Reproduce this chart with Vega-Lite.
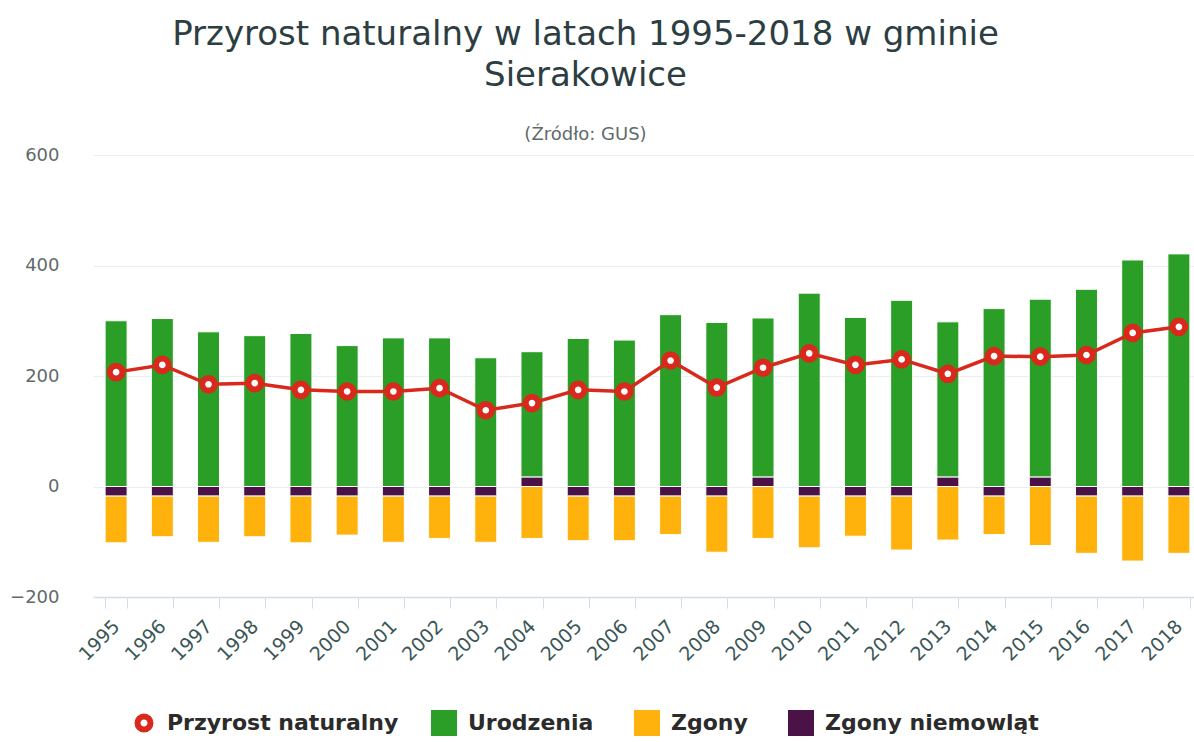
{
  "$schema": "https://vega.github.io/schema/vega-lite/v6.json",
  "width": 1109,
  "height": 442,
  "autosize": {"type": "none"},
  "padding": {"left": 93, "top": 155, "right": 0, "bottom": 145},
  "background": "white",
  "title": {
    "text": ["Przyrost naturalny w latach 1995-2018 w gminie", "Sierakowice"],
    "subtitle": "(Źródło: GUS)",
    "anchor": "middle",
    "frame": "group",
    "dx": -62,
    "offset": 2,
    "font": "DejaVu Sans",
    "fontSize": 34,
    "fontWeight": "normal",
    "color": "#2c3e42",
    "lineHeight": 41,
    "subtitleFont": "DejaVu Sans",
    "subtitleFontSize": 18,
    "subtitleColor": "#5f6b6b",
    "subtitlePadding": 33
  },
  "config": {
    "view": {"stroke": null},
    "font": "DejaVu Sans"
  },
  "data": {
    "values": [
      {"year": "1995", "series": "Urodzenia", "value": 300},
      {"year": "1995", "series": "Zgony", "value": -85},
      {"year": "1995", "series": "Zgony niemowląt", "value": -17},
      {"year": "1995", "series": "Przyrost naturalny", "value": 207},
      {"year": "1996", "series": "Urodzenia", "value": 304},
      {"year": "1996", "series": "Zgony", "value": -74},
      {"year": "1996", "series": "Zgony niemowląt", "value": -17},
      {"year": "1996", "series": "Przyrost naturalny", "value": 220},
      {"year": "1997", "series": "Urodzenia", "value": 280},
      {"year": "1997", "series": "Zgony", "value": -84},
      {"year": "1997", "series": "Zgony niemowląt", "value": -17},
      {"year": "1997", "series": "Przyrost naturalny", "value": 185},
      {"year": "1998", "series": "Urodzenia", "value": 273},
      {"year": "1998", "series": "Zgony", "value": -74},
      {"year": "1998", "series": "Zgony niemowląt", "value": -17},
      {"year": "1998", "series": "Przyrost naturalny", "value": 187},
      {"year": "1999", "series": "Urodzenia", "value": 277},
      {"year": "1999", "series": "Zgony", "value": -85},
      {"year": "1999", "series": "Zgony niemowląt", "value": -17},
      {"year": "1999", "series": "Przyrost naturalny", "value": 175},
      {"year": "2000", "series": "Urodzenia", "value": 255},
      {"year": "2000", "series": "Zgony", "value": -71},
      {"year": "2000", "series": "Zgony niemowląt", "value": -17},
      {"year": "2000", "series": "Przyrost naturalny", "value": 172},
      {"year": "2001", "series": "Urodzenia", "value": 269},
      {"year": "2001", "series": "Zgony", "value": -84},
      {"year": "2001", "series": "Zgony niemowląt", "value": -17},
      {"year": "2001", "series": "Przyrost naturalny", "value": 172},
      {"year": "2002", "series": "Urodzenia", "value": 269},
      {"year": "2002", "series": "Zgony", "value": -77},
      {"year": "2002", "series": "Zgony niemowląt", "value": -17},
      {"year": "2002", "series": "Przyrost naturalny", "value": 178},
      {"year": "2003", "series": "Urodzenia", "value": 233},
      {"year": "2003", "series": "Zgony", "value": -84},
      {"year": "2003", "series": "Zgony niemowląt", "value": -17},
      {"year": "2003", "series": "Przyrost naturalny", "value": 138},
      {"year": "2004", "series": "Urodzenia", "value": 227},
      {"year": "2004", "series": "Zgony", "value": -94},
      {"year": "2004", "series": "Zgony niemowląt", "value": 17},
      {"year": "2004", "series": "Przyrost naturalny", "value": 151},
      {"year": "2005", "series": "Urodzenia", "value": 268},
      {"year": "2005", "series": "Zgony", "value": -81},
      {"year": "2005", "series": "Zgony niemowląt", "value": -17},
      {"year": "2005", "series": "Przyrost naturalny", "value": 175},
      {"year": "2006", "series": "Urodzenia", "value": 265},
      {"year": "2006", "series": "Zgony", "value": -81},
      {"year": "2006", "series": "Zgony niemowląt", "value": -17},
      {"year": "2006", "series": "Przyrost naturalny", "value": 172},
      {"year": "2007", "series": "Urodzenia", "value": 311},
      {"year": "2007", "series": "Zgony", "value": -70},
      {"year": "2007", "series": "Zgony niemowląt", "value": -17},
      {"year": "2007", "series": "Przyrost naturalny", "value": 228},
      {"year": "2008", "series": "Urodzenia", "value": 297},
      {"year": "2008", "series": "Zgony", "value": -102},
      {"year": "2008", "series": "Zgony niemowląt", "value": -17},
      {"year": "2008", "series": "Przyrost naturalny", "value": 179},
      {"year": "2009", "series": "Urodzenia", "value": 288},
      {"year": "2009", "series": "Zgony", "value": -94},
      {"year": "2009", "series": "Zgony niemowląt", "value": 17},
      {"year": "2009", "series": "Przyrost naturalny", "value": 215},
      {"year": "2010", "series": "Urodzenia", "value": 350},
      {"year": "2010", "series": "Zgony", "value": -94},
      {"year": "2010", "series": "Zgony niemowląt", "value": -17},
      {"year": "2010", "series": "Przyrost naturalny", "value": 241},
      {"year": "2011", "series": "Urodzenia", "value": 306},
      {"year": "2011", "series": "Zgony", "value": -73},
      {"year": "2011", "series": "Zgony niemowląt", "value": -17},
      {"year": "2011", "series": "Przyrost naturalny", "value": 220},
      {"year": "2012", "series": "Urodzenia", "value": 337},
      {"year": "2012", "series": "Zgony", "value": -98},
      {"year": "2012", "series": "Zgony niemowląt", "value": -17},
      {"year": "2012", "series": "Przyrost naturalny", "value": 230},
      {"year": "2013", "series": "Urodzenia", "value": 281},
      {"year": "2013", "series": "Zgony", "value": -97},
      {"year": "2013", "series": "Zgony niemowląt", "value": 17},
      {"year": "2013", "series": "Przyrost naturalny", "value": 204},
      {"year": "2014", "series": "Urodzenia", "value": 322},
      {"year": "2014", "series": "Zgony", "value": -70},
      {"year": "2014", "series": "Zgony niemowląt", "value": -17},
      {"year": "2014", "series": "Przyrost naturalny", "value": 236},
      {"year": "2015", "series": "Urodzenia", "value": 322},
      {"year": "2015", "series": "Zgony", "value": -107},
      {"year": "2015", "series": "Zgony niemowląt", "value": 17},
      {"year": "2015", "series": "Przyrost naturalny", "value": 235},
      {"year": "2016", "series": "Urodzenia", "value": 357},
      {"year": "2016", "series": "Zgony", "value": -104},
      {"year": "2016", "series": "Zgony niemowląt", "value": -17},
      {"year": "2016", "series": "Przyrost naturalny", "value": 238},
      {"year": "2017", "series": "Urodzenia", "value": 410},
      {"year": "2017", "series": "Zgony", "value": -118},
      {"year": "2017", "series": "Zgony niemowląt", "value": -17},
      {"year": "2017", "series": "Przyrost naturalny", "value": 278},
      {"year": "2018", "series": "Urodzenia", "value": 421},
      {"year": "2018", "series": "Zgony", "value": -104},
      {"year": "2018", "series": "Zgony niemowląt", "value": -17},
      {"year": "2018", "series": "Przyrost naturalny", "value": 289}
    ]
  },
  "encoding": {
    "x": {
      "field": "year",
      "type": "ordinal",
      "title": null,
      "scale": {"paddingInner": 0.54, "paddingOuter": 0.27},
      "axis": {
        "labelAngle": -45,
        "labelAlign": "right",
        "labelBaseline": "middle",
        "labelFont": "DejaVu Sans",
        "labelFontSize": 19,
        "labelColor": "#3b5656",
        "labelPadding": 15,
        "tickBand": "extent",
        "tickSize": 11,
        "tickColor": "#d3dde8",
        "domainColor": "#d3dde8",
        "domainWidth": 1.5,
        "grid": false
      }
    }
  },
  "layer": [
    {
      "transform": [{"filter": "datum.series !== 'Przyrost naturalny'"}],
      "mark": {"type": "bar", "stroke": "white", "strokeWidth": 1, "size": 22},
      "encoding": {
        "y": {
          "field": "value",
          "type": "quantitative",
          "stack": "zero",
          "title": null,
          "scale": {"domain": [-200, 600], "nice": false},
          "axis": {
            "values": [-200, 0, 200, 400, 600],
            "domain": false,
            "ticks": false,
            "labelFont": "DejaVu Sans",
            "labelFontSize": 18,
            "labelColor": "#5f6b6b",
            "labelPadding": 34,
            "gridColor": "#e9eef0",
            "gridWidth": 1.2
          }
        },
        "fill": {
          "field": "series",
          "type": "nominal",
          "scale": {
            "domain": ["Urodzenia", "Zgony", "Zgony niemowląt"],
            "range": ["#2a9e26", "#ffb20c", "#4a1246"]
          },
          "legend": {
            "title": null,
            "orient": "none",
            "direction": "horizontal",
            "legendX": 338,
            "legendY": 555,
            "labelFont": "DejaVu Sans",
            "labelFontSize": 22,
            "labelFontWeight": "bold",
            "labelColor": "#2b2b2b",
            "labelLimit": 0,
            "labelOffset": 11,
            "columnPadding": 40,
            "symbolType": "square",
            "symbolSize": 676,
            "symbolStrokeWidth": 0
          }
        },
        "order": {"field": "series", "sort": "descending"}
      }
    },
    {
      "transform": [{"filter": "datum.series === 'Przyrost naturalny'"}],
      "mark": {"type": "line", "strokeWidth": 3.5},
      "encoding": {
        "y": {"field": "value", "type": "quantitative"},
        "stroke": {
          "field": "series",
          "type": "nominal",
          "scale": {"domain": ["Przyrost naturalny"], "range": ["#d9281c"]},
          "legend": {
            "title": null,
            "orient": "none",
            "direction": "horizontal",
            "legendX": 40,
            "legendY": 557,
            "labelFont": "DejaVu Sans",
            "labelFontSize": 22,
            "labelFontWeight": "bold",
            "labelColor": "#2b2b2b",
            "labelLimit": 0,
            "labelOffset": 12,
            "symbolType": "circle",
            "symbolSize": 170,
            "symbolStrokeWidth": 6,
            "symbolFillColor": "#ffffff"
          }
        }
      }
    },
    {
      "transform": [{"filter": "datum.series === 'Przyrost naturalny'"}],
      "mark": {"type": "point", "shape": "circle", "filled": true, "fill": "white", "strokeWidth": 6, "size": 160, "opacity": 1},
      "encoding": {
        "y": {"field": "value", "type": "quantitative"},
        "stroke": {"field": "series", "type": "nominal"}
      }
    }
  ]
}
